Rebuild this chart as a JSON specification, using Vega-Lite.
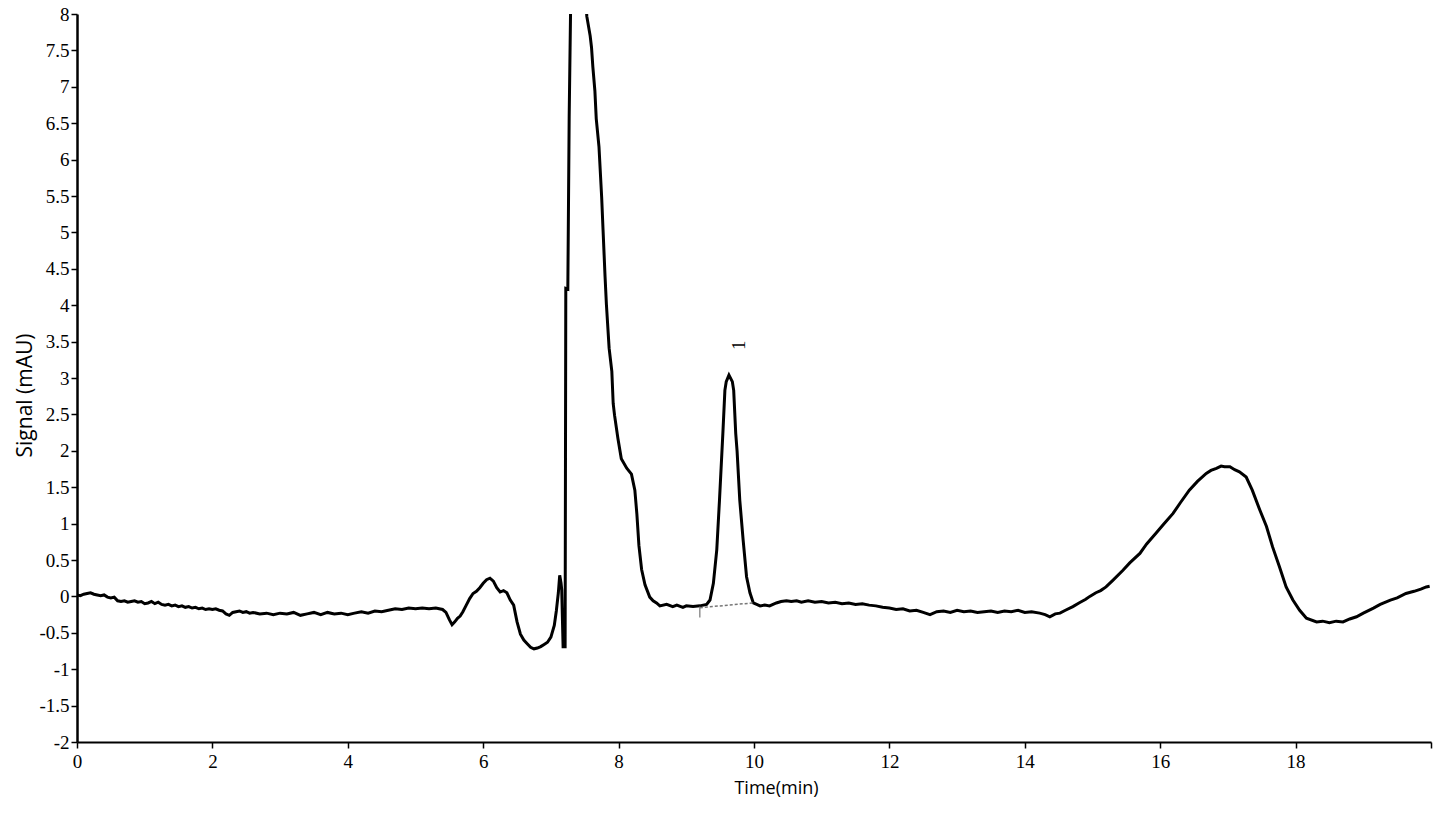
{
  "$schema": "https://vega.github.io/schema/vega-lite/v6.json",
  "width": 1354,
  "height": 728,
  "autosize": {"type": "none"},
  "padding": {"left": 77, "top": 14, "right": 16, "bottom": 72},
  "background": "white",
  "config": {
    "view": {"stroke": null},
    "axis": {
      "grid": false,
      "labelFont": "Liberation Serif", "labelFontSize": 19, "labelColor": "black",
      "labelFlush": false, "labelOverlap": false, "labelBound": false,
      "domainColor": "black", "tickColor": "black", "tickWidth": 1.5, "tickSize": 6,
      "titleFont": "Open Sans", "titleFontWeight": "normal", "titleColor": "black"
    }
  },
  "datasets": {
    "trace": [
      {"t":0.00,"v":0.02},{"t":0.05,"v":0.01},{"t":0.10,"v":0.03},{"t":0.15,"v":0.04},{"t":0.20,"v":0.05},{"t":0.25,"v":0.03},{"t":0.30,"v":0.02},{"t":0.35,"v":0.01},{"t":0.40,"v":0.02},{"t":0.45,"v":-0.01},{"t":0.50,"v":-0.02},{"t":0.55,"v":-0.01},{"t":0.60,"v":-0.06},{"t":0.65,"v":-0.07},{"t":0.70,"v":-0.06},{"t":0.75,"v":-0.08},{"t":0.80,"v":-0.07},{"t":0.85,"v":-0.06},{"t":0.90,"v":-0.08},{"t":0.95,"v":-0.07},
      {"t":1.00,"v":-0.10},{"t":1.05,"v":-0.09},{"t":1.10,"v":-0.07},{"t":1.15,"v":-0.10},{"t":1.20,"v":-0.08},{"t":1.25,"v":-0.11},{"t":1.30,"v":-0.12},{"t":1.35,"v":-0.11},{"t":1.40,"v":-0.13},{"t":1.45,"v":-0.12},{"t":1.50,"v":-0.14},{"t":1.55,"v":-0.13},{"t":1.60,"v":-0.15},{"t":1.65,"v":-0.14},{"t":1.70,"v":-0.16},{"t":1.75,"v":-0.15},{"t":1.80,"v":-0.17},{"t":1.85,"v":-0.16},{"t":1.90,"v":-0.18},{"t":1.95,"v":-0.17},
      {"t":2.00,"v":-0.18},{"t":2.05,"v":-0.17},{"t":2.10,"v":-0.19},{"t":2.15,"v":-0.20},{"t":2.20,"v":-0.24},{"t":2.25,"v":-0.26},{"t":2.30,"v":-0.22},{"t":2.35,"v":-0.21},{"t":2.40,"v":-0.20},{"t":2.45,"v":-0.22},{"t":2.50,"v":-0.21},{"t":2.55,"v":-0.23},{"t":2.60,"v":-0.22},{"t":2.70,"v":-0.24},{"t":2.80,"v":-0.23},{"t":2.90,"v":-0.25},
      {"t":3.00,"v":-0.23},{"t":3.10,"v":-0.24},{"t":3.20,"v":-0.22},{"t":3.30,"v":-0.26},{"t":3.40,"v":-0.24},{"t":3.50,"v":-0.22},{"t":3.60,"v":-0.25},{"t":3.70,"v":-0.22},{"t":3.80,"v":-0.24},{"t":3.90,"v":-0.23},
      {"t":4.00,"v":-0.25},{"t":4.10,"v":-0.23},{"t":4.20,"v":-0.21},{"t":4.30,"v":-0.23},{"t":4.40,"v":-0.20},{"t":4.50,"v":-0.21},{"t":4.60,"v":-0.19},{"t":4.70,"v":-0.17},{"t":4.80,"v":-0.18},{"t":4.90,"v":-0.16},
      {"t":5.00,"v":-0.17},{"t":5.10,"v":-0.16},{"t":5.20,"v":-0.17},{"t":5.30,"v":-0.16},{"t":5.40,"v":-0.18},{"t":5.45,"v":-0.22},{"t":5.50,"v":-0.32},{"t":5.54,"v":-0.39},{"t":5.58,"v":-0.35},{"t":5.62,"v":-0.30},{"t":5.66,"v":-0.27},{"t":5.70,"v":-0.21},{"t":5.75,"v":-0.12},{"t":5.80,"v":-0.03},{"t":5.85,"v":0.04},{"t":5.90,"v":0.07},{"t":5.95,"v":0.12},
      {"t":6.00,"v":0.18},{"t":6.05,"v":0.23},{"t":6.10,"v":0.25},{"t":6.15,"v":0.21},{"t":6.20,"v":0.12},{"t":6.25,"v":0.06},{"t":6.30,"v":0.08},{"t":6.35,"v":0.05},{"t":6.40,"v":-0.05},{"t":6.45,"v":-0.12},{"t":6.50,"v":-0.35},{"t":6.55,"v":-0.52},{"t":6.60,"v":-0.60},{"t":6.65,"v":-0.65},{"t":6.70,"v":-0.70},{"t":6.75,"v":-0.72},{"t":6.80,"v":-0.71},{"t":6.85,"v":-0.69},{"t":6.90,"v":-0.66},{"t":6.95,"v":-0.63},
      {"t":7.00,"v":-0.56},{"t":7.05,"v":-0.40},{"t":7.08,"v":-0.20},{"t":7.11,"v":0.05},{"t":7.13,"v":0.29},{"t":7.15,"v":0.18},{"t":7.16,"v":0.09},{"t":7.18,"v":-0.69},{"t":7.21,"v":-0.69},{"t":7.22,"v":4.23},{"t":7.25,"v":4.22},{"t":7.27,"v":6.59},{"t":7.29,"v":8.0},{"t":7.40,"v":10.5},
      {"t":7.53,"v":7.97},{"t":7.58,"v":7.70},{"t":7.60,"v":7.54},{"t":7.62,"v":7.27},{"t":7.65,"v":6.94},{"t":7.67,"v":6.56},{"t":7.71,"v":6.18},{"t":7.75,"v":5.48},{"t":7.77,"v":5.04},{"t":7.80,"v":4.39},{"t":7.82,"v":4.01},{"t":7.86,"v":3.41},{"t":7.90,"v":3.09},{"t":7.92,"v":2.65},{"t":7.94,"v":2.49},{"t":7.99,"v":2.17},
      {"t":8.04,"v":1.89},{"t":8.12,"v":1.76},{"t":8.19,"v":1.68},{"t":8.24,"v":1.46},{"t":8.27,"v":1.13},{"t":8.30,"v":0.70},{"t":8.34,"v":0.37},{"t":8.39,"v":0.16},{"t":8.46,"v":-0.01},{"t":8.51,"v":-0.06},{"t":8.56,"v":-0.09},{"t":8.61,"v":-0.13},{"t":8.71,"v":-0.11},{"t":8.80,"v":-0.14},{"t":8.86,"v":-0.12},{"t":8.95,"v":-0.15},
      {"t":9.00,"v":-0.13},{"t":9.10,"v":-0.14},{"t":9.20,"v":-0.13},{"t":9.30,"v":-0.11},{"t":9.35,"v":-0.05},{"t":9.40,"v":0.18},{"t":9.45,"v":0.64},{"t":9.49,"v":1.32},{"t":9.54,"v":2.24},{"t":9.57,"v":2.83},{"t":9.59,"v":2.95},{"t":9.63,"v":3.04},{"t":9.68,"v":2.95},{"t":9.70,"v":2.83},{"t":9.73,"v":2.24},{"t":9.75,"v":2.00},{"t":9.79,"v":1.32},{"t":9.84,"v":0.77},{"t":9.89,"v":0.27},{"t":9.94,"v":0.05},{"t":9.99,"v":-0.09},
      {"t":10.04,"v":-0.11},{"t":10.09,"v":-0.13},{"t":10.16,"v":-0.12},{"t":10.23,"v":-0.13},{"t":10.33,"v":-0.09},{"t":10.40,"v":-0.07},{"t":10.48,"v":-0.06},{"t":10.55,"v":-0.07},{"t":10.63,"v":-0.06},{"t":10.70,"v":-0.08},{"t":10.80,"v":-0.06},{"t":10.90,"v":-0.08},
      {"t":11.00,"v":-0.07},{"t":11.10,"v":-0.09},{"t":11.20,"v":-0.08},{"t":11.30,"v":-0.10},{"t":11.40,"v":-0.09},{"t":11.50,"v":-0.11},{"t":11.60,"v":-0.10},{"t":11.70,"v":-0.12},{"t":11.80,"v":-0.13},{"t":11.90,"v":-0.15},
      {"t":12.00,"v":-0.16},{"t":12.10,"v":-0.18},{"t":12.20,"v":-0.17},{"t":12.30,"v":-0.20},{"t":12.40,"v":-0.19},{"t":12.50,"v":-0.22},{"t":12.60,"v":-0.25},{"t":12.70,"v":-0.21},{"t":12.80,"v":-0.20},{"t":12.90,"v":-0.22},
      {"t":13.00,"v":-0.19},{"t":13.10,"v":-0.21},{"t":13.20,"v":-0.20},{"t":13.30,"v":-0.22},{"t":13.40,"v":-0.21},{"t":13.50,"v":-0.20},{"t":13.60,"v":-0.22},{"t":13.70,"v":-0.20},{"t":13.80,"v":-0.21},{"t":13.90,"v":-0.19},
      {"t":14.00,"v":-0.22},{"t":14.10,"v":-0.21},{"t":14.22,"v":-0.23},{"t":14.30,"v":-0.25},{"t":14.37,"v":-0.28},{"t":14.45,"v":-0.24},{"t":14.52,"v":-0.23},{"t":14.60,"v":-0.19},{"t":14.71,"v":-0.14},{"t":14.80,"v":-0.09},{"t":14.90,"v":-0.04},{"t":14.96,"v":0.00},
      {"t":15.05,"v":0.05},{"t":15.12,"v":0.08},{"t":15.20,"v":0.13},{"t":15.30,"v":0.22},{"t":15.45,"v":0.36},{"t":15.55,"v":0.46},{"t":15.70,"v":0.59},{"t":15.80,"v":0.72},{"t":15.94,"v":0.87},
      {"t":16.05,"v":0.99},{"t":16.19,"v":1.14},{"t":16.30,"v":1.29},{"t":16.43,"v":1.46},{"t":16.55,"v":1.58},{"t":16.68,"v":1.69},{"t":16.75,"v":1.73},{"t":16.83,"v":1.76},{"t":16.90,"v":1.79},{"t":16.95,"v":1.78},
      {"t":17.03,"v":1.78},{"t":17.10,"v":1.74},{"t":17.17,"v":1.71},{"t":17.27,"v":1.64},{"t":17.36,"v":1.46},{"t":17.47,"v":1.19},{"t":17.57,"v":0.96},{"t":17.66,"v":0.68},{"t":17.76,"v":0.41},{"t":17.86,"v":0.13},{"t":17.96,"v":-0.05},
      {"t":18.06,"v":-0.19},{"t":18.16,"v":-0.30},{"t":18.31,"v":-0.35},{"t":18.40,"v":-0.34},{"t":18.50,"v":-0.36},{"t":18.60,"v":-0.34},{"t":18.70,"v":-0.35},{"t":18.80,"v":-0.31},{"t":18.90,"v":-0.28},
      {"t":19.00,"v":-0.23},{"t":19.15,"v":-0.16},{"t":19.25,"v":-0.11},{"t":19.40,"v":-0.05},{"t":19.50,"v":-0.02},{"t":19.63,"v":0.04},{"t":19.75,"v":0.07},{"t":19.85,"v":0.10},{"t":19.93,"v":0.13},{"t":19.98,"v":0.14}
    ],
    "baseline": [
      {"t":9.2,"v":-0.155},
      {"t":9.98,"v":-0.09}
    ],
    "marker": [
      {"t":9.2,"v":-0.14,"v2":-0.29}
    ],
    "peaks": [
      {"t":9.79,"v":3.45,"label":"1"}
    ]
  },
  "encoding": {
    "x": {
      "field": "t", "type": "quantitative",
      "scale": {"domain": [0, 20], "nice": false, "zero": false},
      "axis": {
        "title": "Time(min)",
        "values": [0,2,4,6,8,10,12,14,16,18,20],
        "labelExpr": "datum.value == 20 ? '' : '' + datum.value",
        "labelFont": "Liberation Serif", "labelFontSize": 19,
        "domainWidth": 2, "labelPadding": 4,
        "titleFontSize": 18,
        "titleX": 699, "titleY": 37, "titleBaseline": "top", "titleAlign": "center"
      }
    },
    "y": {
      "field": "v", "type": "quantitative",
      "scale": {"domain": [-2, 8], "nice": false, "zero": false},
      "axis": {
        "title": "Signal (mAU)",
        "values": [-2,-1.5,-1,-0.5,0,0.5,1,1.5,2,2.5,3,3.5,4,4.5,5,5.5,6,6.5,7,7.5,8],
        "labelExpr": "'' + datum.value",
        "labelFont": "Liberation Serif", "labelFontSize": 19,
        "domainWidth": 2.5, "labelPadding": 2,
        "titleFontSize": 21,
        "titleX": -52, "titleY": 381, "titleBaseline": "middle", "titleAlign": "center", "titleAngle": -90
      }
    }
  },
  "layer": [
    {
      "data": {"name": "trace"},
      "mark": {"type": "line", "color": "black", "strokeWidth": 3, "clip": true}
    },
    {
      "data": {"name": "baseline"},
      "mark": {"type": "line", "color": "#777777", "strokeWidth": 1.5, "strokeDash": [3, 2]}
    },
    {
      "data": {"name": "marker"},
      "mark": {"type": "rule", "color": "#777777", "strokeWidth": 1.2},
      "encoding": {
        "y2": {"field": "v2"}
      }
    },
    {
      "data": {"name": "peaks"},
      "mark": {"type": "text", "angle": 270, "font": "Liberation Serif", "fontSize": 18, "color": "black", "align": "center", "baseline": "middle"},
      "encoding": {
        "text": {"field": "label"}
      }
    }
  ]
}
